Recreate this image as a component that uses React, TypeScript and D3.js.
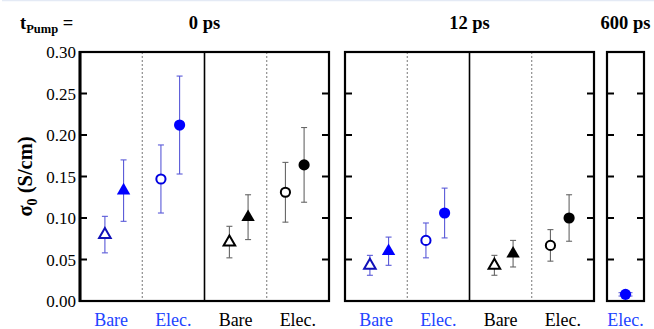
import React from "react";
import * as d3 from "d3";

// Conductivity σ0 (S/cm) at three pump delays
const delayLabels = ["0 ps", "12 ps", "600 ps"];
const sampleLabels = ["Bare", "Elec."];
const yTicks = [0, 0.05, 0.1, 0.15, 0.2, 0.25, 0.3];

// marker kinds, in order, within each group of four
const markerKinds = ["openTri", "filledTri", "openCircle", "filledCircle"];
// horizontal slot of each marker inside a group (group spans 0..4, divider at 2)
const markerSlots = [0.8, 1.4, 2.6, 3.2];

const val0Blue = [0.080, 0.133, 0.147, 0.212];
const err0Blue = [0.022, 0.037, 0.041, 0.059];
const val0Black = [0.071, 0.101, 0.131, 0.164];
const err0Black = [0.019, 0.027, 0.036, 0.045];
const val12Blue = [0.043, 0.060, 0.073, 0.106];
const err12Blue = [0.012, 0.017, 0.021, 0.030];
const val12Black = [0.043, 0.057, 0.067, 0.100];
const err12Black = [0.012, 0.016, 0.019, 0.028];
const val600Blue = [0.008];
const err600Blue = [0.002];

const W = 654;
const H = 329;
const top = 52;
const bottom = 301;
const groupW = 124.5;

const BLUE = "#0000ff";
const BLUE_DARK = "#1010b8";
const BLUE_ERR = "#5a5ad8";
const BLUE_TEXT = "#2244ff";
const GRAY_ERR = "#666666";

const y = d3.scaleLinear().domain([0, 0.3]).range([bottom, top]);

type Group = { x0: number; vals: number[]; errs: number[]; blue: boolean };

const groups: Group[] = [
  { x0: 80, vals: val0Blue, errs: err0Blue, blue: true },
  { x0: 80 + groupW, vals: val0Black, errs: err0Black, blue: false },
  { x0: 345, vals: val12Blue, errs: err12Blue, blue: true },
  { x0: 345 + groupW, vals: val12Black, errs: err12Black, blue: false },
];

const panels = [
  { x0: 80, x1: 80 + 2 * groupW },
  { x0: 345, x1: 345 + 2 * groupW },
  { x0: 607, x1: 644 },
];

const tri = d3.symbol().type(d3.symbolTriangle);
const FONT = '"Liberation Serif", "Times New Roman", serif';
const ts = (size: number, bold = false) => ({
  fontFamily: FONT,
  fontSize: `${size}px`,
  fontWeight: bold ? 700 : 400,
});

function Marker({ kind, cx, cy, blue }: { kind: string; cx: number; cy: number; blue: boolean }) {
  const fillC = blue ? BLUE : "#000";
  const strokeC = blue ? BLUE_DARK : "#000";
  if (kind === "openTri")
    return <path d={tri.size(58)() as string} transform={`translate(${cx},${cy})`} fill="#fff" stroke={strokeC} strokeWidth={2} />;
  if (kind === "filledTri")
    return <path d={tri.size(78)() as string} transform={`translate(${cx},${cy})`} fill={fillC} />;
  if (kind === "openCircle")
    return <circle cx={cx} cy={cy} r={4.6} fill="#fff" stroke={blue ? "#0000e0" : "#000"} strokeWidth={2} />;
  return <circle cx={cx} cy={cy} r={5.6} fill={fillC} />;
}

function ErrBar({ cx, v, e, color, cap }: { cx: number; v: number; e: number; color: string; cap: number }) {
  const y1 = y(v + e);
  const y0 = y(v - e);
  return (
    <g stroke={color} strokeWidth={1.1}>
      <line x1={cx} x2={cx} y1={y1} y2={y0} />
      <line x1={cx - cap} x2={cx + cap} y1={y1} y2={y1} />
      <line x1={cx - cap} x2={cx + cap} y1={y0} y2={y0} />
    </g>
  );
}

export default function App() {
  const innerTicks = yTicks.filter((t) => t > 0 && t < 0.3);
  const p3x = d3.scaleLinear().domain([0, 1]).range([panels[2].x0, panels[2].x1]);

  return (
    <svg width={W} height={H} style={{ position: "absolute", left: 0, top: 0, background: "#fff" }}>
      <line x1={2} x2={W} y1={0.5} y2={0.5} stroke="#e4eaf5" strokeWidth={1.5} />

      {/* title row */}
      <text x={20} y={29} style={ts(18.5, true)}>
        t<tspan dy={4} style={ts(12.5, true)}>Pump</tspan>
        <tspan dy={-4} style={ts(18.5, true)}> =</tspan>
      </text>
      {[panels[0].x0 + groupW, panels[1].x0 + groupW, (panels[2].x0 + panels[2].x1) / 2].map((cx, i) => (
        <text key={i} x={cx} y={29} textAnchor="middle" style={ts(18.5, true)}>
          {delayLabels[i]}
        </text>
      ))}

      {/* y axis labels */}
      {yTicks.map((t) => (
        <text key={t} x={76} y={y(t) + 6} textAnchor="end" style={ts(17)}>
          {d3.format(".2f")(t)}
        </text>
      ))}
      <text transform={`translate(32,${(top + bottom) / 2}) rotate(-90)`} textAnchor="middle" style={ts(20.5, true)}>
        σ<tspan dy={5} style={ts(14, true)}>0</tspan>
        <tspan dy={-5} style={ts(20.5, true)}> (S/cm)</tspan>
      </text>

      {/* dotted separators between Bare and Elec. */}
      {groups.map((g, i) => (
        <line key={i} x1={g.x0 + groupW / 2} x2={g.x0 + groupW / 2} y1={top} y2={bottom} stroke="#777" strokeWidth={1} strokeDasharray="2,2" />
      ))}
      {/* solid dividers between sample families */}
      {[panels[0], panels[1]].map((p, i) => (
        <line key={i} x1={p.x0 + groupW} x2={p.x0 + groupW} y1={top} y2={bottom} stroke="#000" strokeWidth={1.6} />
      ))}

      {/* panel frames and inward ticks */}
      {panels.map((p, i) => (
        <g key={i}>
          <rect x={p.x0} y={top} width={p.x1 - p.x0} height={bottom - top} fill="none" stroke="#000" strokeWidth={2.2} />
          {innerTicks.map((t) => (
            <g key={t} stroke="#000" strokeWidth={2}>
              <line x1={p.x0} x2={p.x0 + 7} y1={y(t)} y2={y(t)} />
              <line x1={p.x1 - 7} x2={p.x1} y1={y(t)} y2={y(t)} />
            </g>
          ))}
        </g>
      ))}
      <line x1={80} x2={80} y1={top - 1} y2={bottom + 1} stroke="#000" strokeWidth={3} />

      {/* data */}
      {groups.map((g, gi) => {
        const x = d3.scaleLinear().domain([0, 4]).range([g.x0, g.x0 + groupW]);
        return (
          <g key={gi}>
            {g.vals.map((v, i) => (
              <g key={i}>
                <ErrBar cx={x(markerSlots[i])} v={v} e={g.errs[i]} color={g.blue ? BLUE_ERR : GRAY_ERR} cap={3} />
                <Marker kind={markerKinds[i]} cx={x(markerSlots[i])} cy={y(v)} blue={g.blue} />
              </g>
            ))}
            {sampleLabels.map((s, si) => (
              <text key={s} x={x(1 + 2 * si)} y={325.5} textAnchor="middle" fill={g.blue ? BLUE_TEXT : "#000"} style={ts(18)}>
                {s}
              </text>
            ))}
          </g>
        );
      })}

      {val600Blue.map((v, i) => (
        <g key={i}>
          <ErrBar cx={p3x(0.5)} v={v} e={err600Blue[i]} color={BLUE_ERR} cap={7} />
          <Marker kind={markerKinds[3]} cx={p3x(0.5)} cy={y(v)} blue={true} />
        </g>
      ))}
      <text x={p3x(0.5)} y={325.5} textAnchor="middle" fill={BLUE_TEXT} style={ts(18)}>
        {sampleLabels[1]}
      </text>
    </svg>
  );
}
